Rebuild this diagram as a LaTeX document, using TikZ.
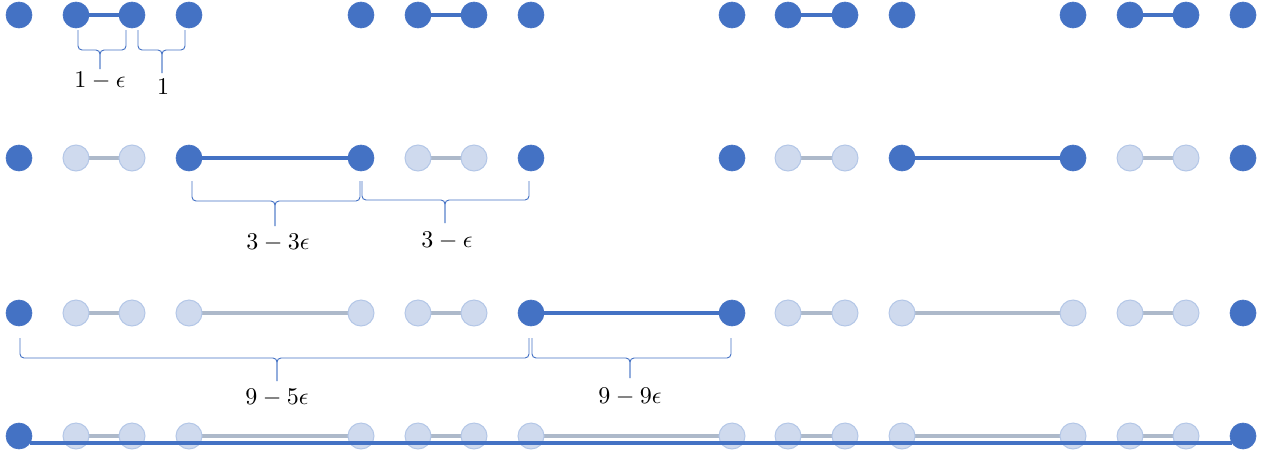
\documentclass[tikz,border=0pt]{standalone}
\usetikzlibrary{backgrounds}
\definecolor{dkblue}{HTML}{4472C4}
\definecolor{ltfill}{HTML}{CFDAEE}
\definecolor{ltedge}{HTML}{B4C7E7}
\definecolor{ltgray}{HTML}{ADB9CA}
\newcommand{\mybrace}[6]{%
  \draw[brc] (#1,#4) |- (#3,#5) -- (#3,#6);
  \draw[brc] (#2,#4) |- (#3,#5) -- (#3,#6);}
\begin{document}
\begin{tikzpicture}[x=0.75pt,y=-0.75pt,
  dk/.style={circle,fill=dkblue,draw=dkblue,line width=0.5pt,minimum size=19.5pt,inner sep=0pt},
  lt/.style={circle,fill=ltfill,draw=ltedge,line width=0.75pt,minimum size=19.5pt,inner sep=0pt},
  dkline/.style={dkblue,line width=2.4pt},
  ltline/.style={ltgray,line width=2.4pt},
  brc/.style={dkblue,line width=0.7pt,rounded corners=3pt},
  lbl/.style={scale=1.8,inner sep=0pt}]
\useasboundingbox (0,0) rectangle (1266,454);
% row 1
\foreach \x [count=\i] in {19,76,132,189,361,418,474,531,732,788,845,902,1073,1130,1186,1243}
  \node[dk] (a\i) at (\x,15) {};
% row 2
\foreach \x/\s [count=\i] in {19/dk,76/lt,132/lt,189/dk,361/dk,418/lt,474/lt,531/dk,732/dk,788/lt,845/lt,902/dk,1073/dk,1130/lt,1186/lt,1243/dk}
  \node[\s] (b\i) at (\x,158) {};
% row 3
\foreach \x/\s [count=\i] in {19/dk,76/lt,132/lt,189/lt,361/lt,418/lt,474/lt,531/dk,732/dk,788/lt,845/lt,902/lt,1073/lt,1130/lt,1186/lt,1243/dk}
  \node[\s] (c\i) at (\x,313) {};
% row 4
\foreach \x/\s [count=\i] in {19/dk,76/lt,132/lt,189/lt,361/lt,418/lt,474/lt,531/lt,732/lt,788/lt,845/lt,902/lt,1073/lt,1130/lt,1186/lt,1243/dk}
  \node[\s] (d\i) at (\x,436) {};
\begin{scope}[on background layer]
  \foreach \p/\q in {2/3,6/7,10/11,14/15} \draw[dkline] (a\p.center) -- (a\q.center);
  \foreach \p/\q in {4/5,12/13} \draw[dkline] (b\p.center) -- (b\q.center);
  \foreach \p/\q in {2/3,6/7,10/11,14/15} \draw[ltline] (b\p.center) -- (b\q.center);
  \draw[dkline] (c8.center) -- (c9.center);
  \foreach \p/\q in {2/3,4/5,6/7,10/11,12/13,14/15} \draw[ltline] (c\p.center) -- (c\q.center);
  \foreach \p/\q in {2/3,4/5,6/7,8/9,10/11,12/13,14/15} \draw[ltline] (d\p.center) -- (d\q.center);
\end{scope}
\draw[dkblue,line width=2.8pt] ([shift={(11,7)}]d1.center) -- ([shift={(-11,7)}]d16.center);
% braces
\mybrace{78}{126}{100}{30}{50}{69}
\mybrace{138}{185}{162}{30}{50}{73}
\mybrace{192}{360}{275}{181}{201}{226}
\mybrace{362}{529}{445}{181}{200}{223}
\mybrace{20}{529}{277}{338}{358}{381}
\mybrace{532}{731}{630}{338}{358}{378}
\node[lbl] (l1) at (100,81) {$1-\epsilon$};
\node[lbl] (l2) at (163,87) {$1$};
\node[lbl] (l3) at (278,243) {$3-3\epsilon$};
\node[lbl] (l4) at (447,241) {$3-\epsilon$};
\node[lbl] (l5) at (277,398) {$9-5\epsilon$};
\node[lbl] (l6) at (630,397) {$9-9\epsilon$};
\end{tikzpicture}
\end{document}
